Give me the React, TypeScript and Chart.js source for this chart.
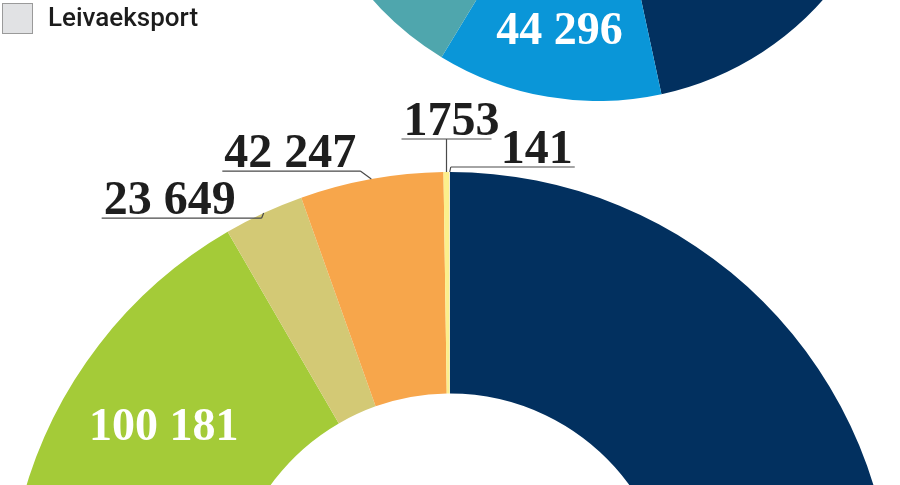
import React, { useEffect, useRef } from "react";
import { Chart, registerables } from "chart.js";

Chart.register(...registerables);

// ---- data ----
const categories = [
  "Kategori 1",
  "Kategori 2",
  "Kategori 3",
  "Kategori 4",
  "Kategori 5",
  "Kategori 6",
  "Kategori 7",
  "Leivaeksport",
];
// upper ring (mostly outside the picture)
const topValues = [170900, 44296, 60000, 55000, 10000, 25000, 1300, 104];
// lower ring
const bottomValues = [520000, 80000, 42000, 100181, 23649, 42247, 1753, 141];
const legendLabels = ["Leivaeksport"];

// ---- styles ----
const sliceColors = [
  "#02305f",
  "#0a96d8",
  "#4fa6ad",
  "#a4cb38",
  "#d3c975",
  "#f7a64b",
  "#fcef8c",
  "#e1e2e4",
];
const LABEL_FONT = "bold 48px 'Liberation Serif', 'Times New Roman', serif";
const INNER_FONT = "bold 46px 'Liberation Serif', 'Times New Roman', serif";

function fmt(n: number): string {
  const s = String(n);
  if (n < 10000) return s;
  return s.replace(/\B(?=(\d{3})+(?!\d))/g, " ");
}

type OuterLabel = {
  index: number;
  ex: number;
  ey: number;
  x0: number;
  x1: number;
  align: "left" | "right";
};
type InnerLabel = { index: number; rf: number; dx: number; dy: number };

const labelPlugin = {
  id: "sliceLabels",
  afterDraw(chart: any, _args: any, opts: any) {
    const ctx = chart.ctx as CanvasRenderingContext2D;
    const meta = chart.getDatasetMeta(0);
    const values = chart.data.datasets[0].data as number[];
    ctx.save();
    (opts.outer || []).forEach((l: OuterLabel) => {
      const arc = meta.data[l.index];
      const p = arc.getProps(["x", "y", "startAngle", "endAngle", "outerRadius"], true);
      const mid = (p.startAngle + p.endAngle) / 2;
      const ax = p.x + Math.cos(mid) * p.outerRadius;
      const ay = p.y + Math.sin(mid) * p.outerRadius;
      const ex = ax + l.ex;
      const ey = ay + l.ey;
      ctx.strokeStyle = "#4a4a4a";
      ctx.lineWidth = 1.2;
      ctx.beginPath();
      ctx.moveTo(ax, ay);
      ctx.lineTo(ex, ey);
      ctx.moveTo(ex + l.x0, ey);
      ctx.lineTo(ex + l.x1, ey);
      ctx.stroke();
      ctx.font = LABEL_FONT;
      ctx.fillStyle = "#1e1e1e";
      ctx.textBaseline = "alphabetic";
      ctx.textAlign = l.align;
      const tx = l.align === "left" ? ex + l.x0 + 2 : ex + l.x1 - 2;
      ctx.fillText(fmt(values[l.index]), tx, ey - 4);
    });
    (opts.inner || []).forEach((l: InnerLabel) => {
      const arc = meta.data[l.index];
      const p = arc.getProps(["x", "y", "startAngle", "endAngle", "outerRadius"], true);
      const mid = (p.startAngle + p.endAngle) / 2;
      const r = p.outerRadius * l.rf;
      const cx = p.x + Math.cos(mid) * r + l.dx;
      const cy = p.y + Math.sin(mid) * r + l.dy;
      ctx.font = INNER_FONT;
      ctx.fillStyle = "#ffffff";
      ctx.textAlign = "center";
      ctx.textBaseline = "alphabetic";
      ctx.fillText(fmt(values[l.index]), cx, cy + 15);
    });
    ctx.restore();
  },
};

function Ring(props: {
  values: number[];
  width: number;
  height: number;
  left: number;
  top: number;
  padding: any;
  outer: OuterLabel[];
  inner: InnerLabel[];
}) {
  const ref = useRef<HTMLCanvasElement | null>(null);
  useEffect(() => {
    if (!ref.current) return;
    const chart = new Chart(ref.current, {
      type: "doughnut",
      data: {
        labels: categories,
        datasets: [
          {
            data: props.values,
            backgroundColor: sliceColors,
            borderWidth: 0,
          },
        ],
      },
      options: {
        responsive: false,
        animation: false,
        cutout: "50%",
        layout: { padding: props.padding },
        plugins: {
          legend: { display: false },
          tooltip: { enabled: false },
          sliceLabels: { outer: props.outer, inner: props.inner },
        } as any,
      },
      plugins: [labelPlugin],
    });
    return () => chart.destroy();
  }, []);
  return (
    <canvas
      ref={ref}
      width={props.width}
      height={props.height}
      style={{
        position: "absolute",
        left: props.left,
        top: props.top,
        width: props.width,
        height: props.height,
      }}
    />
  );
}

export default function App() {
  useEffect(() => {
    document.body.style.margin = "0";
  }, []);
  return (
    <div
      style={{
        position: "fixed",
        left: 0,
        top: 0,
        width: 900,
        height: 485,
        overflow: "hidden",
        background: "#ffffff",
      }}
    >
      <Ring
        values={bottomValues}
        width={900}
        height={1230}
        left={0}
        top={0}
        padding={{ top: 172, bottom: 172, left: 7, right: 7 }}
        outer={[
          { index: 4, ex: -2, ey: 5, x0: -160, x1: 0, align: "left" },
          { index: 5, ex: -11, ey: -8, x0: -138, x1: 0, align: "left" },
          { index: 6, ex: 0, ey: -33, x0: -45, x1: 45, align: "left" },
          { index: 7, ex: 1, ey: -5, x0: 0, x1: 124, align: "right" },
        ]}
        inner={[{ index: 3, rf: 0.776, dx: -14, dy: 20 }]}
      />
      <Ring
        values={topValues}
        width={602}
        height={602}
        left={297}
        top={-501}
        padding={0}
        outer={[]}
        inner={[{ index: 1, rf: 0.77, dx: 0, dy: 0 }]}
      />
      <div
        style={{
          position: "absolute",
          left: 2,
          top: 3,
          width: 29,
          height: 29,
          background: "#e1e2e4",
          border: "1px solid #9a9a9a",
        }}
      />
      <div
        style={{
          position: "absolute",
          left: 48,
          top: 4,
          font: "500 26px Roboto, 'Noto Sans', sans-serif",
          lineHeight: "26px",
          color: "#1c1c1c",
          whiteSpace: "nowrap",
        }}
      >
        {legendLabels[0]}
      </div>
    </div>
  );
}
